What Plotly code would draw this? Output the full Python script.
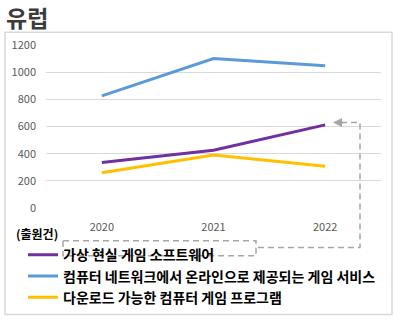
import plotly.graph_objects as go

years = ["2020", "2021", "2022"]
vr_software = [335, 425, 612]
online_service = [826, 1100, 1048]
download_program = [260, 390, 308]
series_names = ["가상 현실 게임 소프트웨어", "컴퓨터 네트워크에서 온라인으로 제공되는 게임 서비스", "다운로드 가능한 컴퓨터 게임 프로그램"]
series_colors = ["#7030a0", "#5b9bd5", "#ffc000"]

W, H = 395, 325
L, R, T, B = 46, 14, 45, 113
PW, PH = W - L - R, H - T - B

def px(x):
    return (x - L) / PW

def py(y):
    return (H - B - y) / PH

FONT = "Noto Sans CJK KR"
fig = go.Figure()
for i, vals in enumerate([vr_software, online_service, download_program]):
    fig.add_trace(go.Scatter(
        x=years, y=vals, mode="lines", name=series_names[i],
        line=dict(color=series_colors[i], width=3),
        legendgroup=f"g{i}",
    ))

shapes = []
gray = "#a6a6a6"
# outer border
shapes.append(dict(type="rect", xref="paper", yref="paper",
                   x0=px(5), x1=px(392), y0=py(32), y1=py(321),
                   line=dict(color="#d9d9d9", width=1.5), layer="below"))
# dashed callout
path = (f"M {px(341)},{py(124.5)} L {px(360)},{py(124.5)} "
        f"L {px(360)},{py(252.5)} L {px(256)},{py(252.5)}")
shapes.append(dict(type="path", xref="paper", yref="paper", path=path,
                   line=dict(color=gray, width=1.5, dash="6px,4px")))
shapes.append(dict(type="rect", xref="paper", yref="paper",
                   x0=px(63), x1=px(256), y0=py(245.5), y1=py(261),
                   line=dict(color=gray, width=1.5, dash="6px,4px")))

annotations = [
    dict(text="<b>유럽</b>", xref="paper", yref="paper", x=px(4), y=py(16),
         xanchor="left", yanchor="middle", showarrow=False,
         font=dict(family=FONT, size=23, color="#3b3b3b")),
    dict(text="<b>(출원건)</b>", xref="paper", yref="paper", x=px(14), y=py(238),
         xanchor="left", yanchor="middle", showarrow=False,
         font=dict(family=FONT, size=12, color="#000000")),
    dict(text="", xref="paper", yref="paper", x=px(333), y=py(124.5),
         ax=12, ay=0, axref="pixel", ayref="pixel",
         showarrow=True, arrowhead=2, arrowsize=1.2, arrowwidth=1.5, arrowcolor=gray),
]

fig.update_layout(
    width=W, height=H,
    margin=dict(l=L, r=R, t=T, b=B),
    paper_bgcolor="white", plot_bgcolor="white",
    font=dict(family=FONT),
    xaxis=dict(type="category", range=[-0.5, 2.5], showgrid=False, showline=False,
               zeroline=False, ticks="", ticklabelstandoff=11,
               tickfont=dict(size=11, color="#595959", family=FONT)),
    yaxis=dict(range=[0, 1200], dtick=200, showgrid=True, gridcolor="#d9d9d9", gridwidth=1,
               zeroline=False, showline=False, ticks="", ticklabelstandoff=9,
               tickfont=dict(size=11, color="#595959", family=FONT)),
    showlegend=True,
    legend=dict(orientation="v", x=px(23), y=py(244), xanchor="left", yanchor="top",
                font=dict(family=FONT, size=14, color="#000000", weight="bold"),
                bgcolor="rgba(0,0,0,0)", tracegroupgap=6, traceorder="normal"),
    shapes=shapes, annotations=annotations,
)
fig.write_html("out.html")
